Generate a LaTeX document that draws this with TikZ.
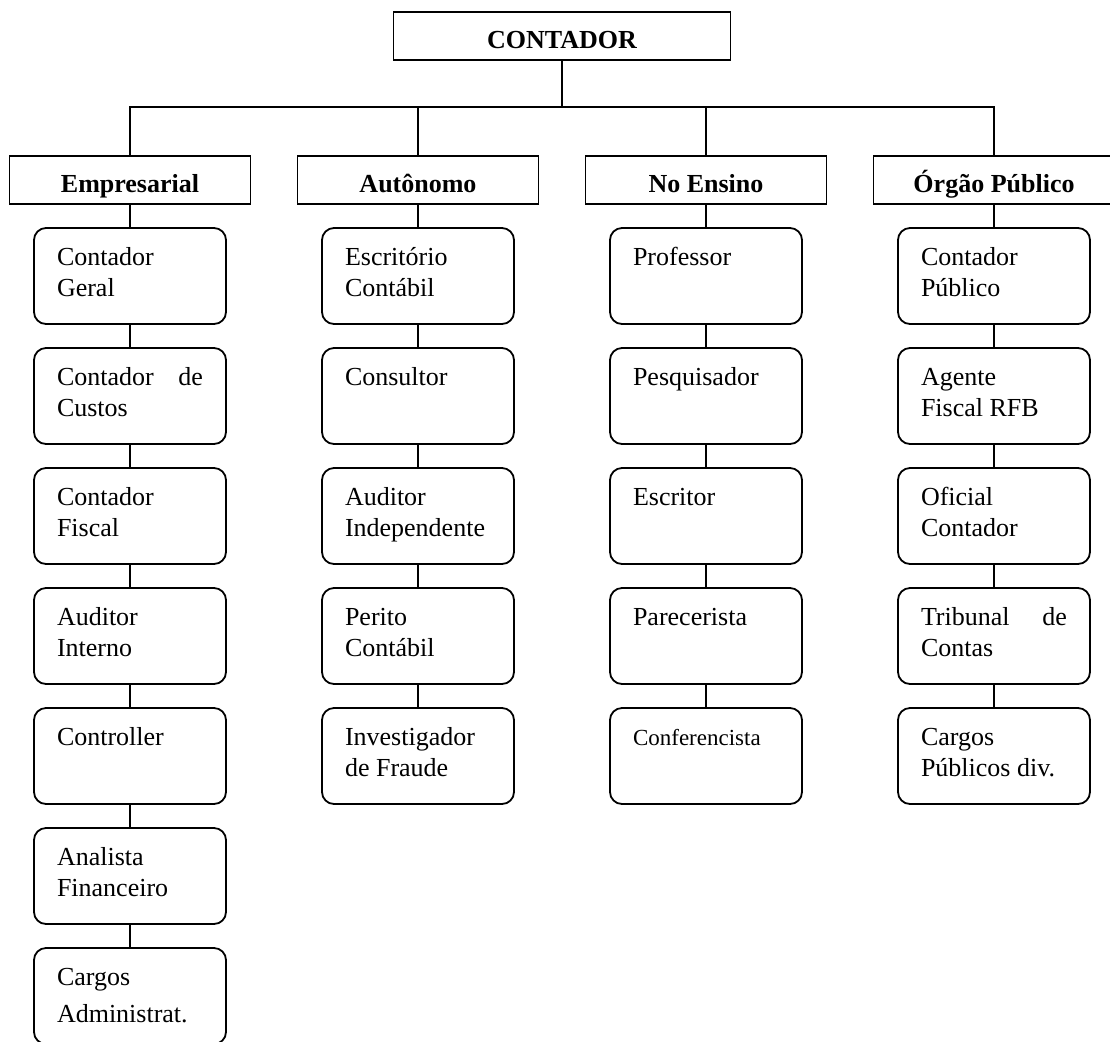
\documentclass[tikz,border=0pt]{standalone}
\usepackage{fontspec}
\setmainfont{Liberation Serif}
\usetikzlibrary{positioning}
\tikzstyle{chefe} = [draw=black, line width=0.9pt, rectangle, minimum width=168.5pt, inner sep=0pt, outer sep=0pt, text height=18pt, text depth=6pt, font=\fontsize{13}{15}\selectfont\bfseries]
\tikzstyle{area} = [draw=black, line width=0.9pt, rectangle, minimum width=120.5pt, inner sep=0pt, outer sep=0pt, text height=18pt, text depth=6pt, font=\fontsize{13}{15}\selectfont\bfseries]
\tikzstyle{cargo} = [draw=black, line width=0.9pt, rectangle, rounded corners=6pt, minimum width=96pt, minimum height=48pt, inner xsep=11.5pt, inner ysep=8pt, outer sep=0pt, font=\fontsize{13}{15.5}\selectfont]
\tikzstyle{ligacao} = [line width=0.9pt]
\newcommand{\txt}[1]{\parbox[t][32pt][t]{73pt}{\strut#1}}
\begin{document}
\begin{tikzpicture}[x=0.5pt, y=-0.5pt]
\useasboundingbox (0,0) rectangle (1110,1041);
\node [chefe] (contador) at (562,36) {CONTADOR};
\coordinate (hub) at (562,107);
\node [area] (emp) at (130,180) {Empresarial};
\node [area] (aut) at (418,180) {Autônomo};
\node [area] (ens) at (706,180) {No Ensino};
\node [area] (org) at (994,180) {Órgão Público};

\node [cargo, below=12pt of emp] (emp1) {\txt{Contador\\Geral}};
\node [cargo, below=12pt of emp1] (emp2) {\txt{Contador \hfill de\\Custos}};
\node [cargo, below=12pt of emp2] (emp3) {\txt{Contador\\Fiscal}};
\node [cargo, below=12pt of emp3] (emp4) {\txt{Auditor\\Interno}};
\node [cargo, below=12pt of emp4] (emp5) {\txt{Controller}};
\node [cargo, below=12pt of emp5] (emp6) {\txt{Analista\\Financeiro}};
\node [cargo, below=12pt of emp6] (emp7) {\txt{Cargos\\[3pt]Administrat.}};

\node [cargo, below=12pt of aut] (aut1) {\txt{Escritório\\Contábil}};
\node [cargo, below=12pt of aut1] (aut2) {\txt{Consultor}};
\node [cargo, below=12pt of aut2] (aut3) {\txt{Auditor\\Independente}};
\node [cargo, below=12pt of aut3] (aut4) {\txt{Perito\\Contábil}};
\node [cargo, below=12pt of aut4] (aut5) {\txt{Investigador\\de Fraude}};

\node [cargo, below=12pt of ens] (ens1) {\txt{Professor}};
\node [cargo, below=12pt of ens1] (ens2) {\txt{Pesquisador}};
\node [cargo, below=12pt of ens2] (ens3) {\txt{Escritor}};
\node [cargo, below=12pt of ens3] (ens4) {\txt{Parecerista}};
\node [cargo, below=12pt of ens4] (ens5) {\txt{\fontsize{11.5}{15.5}\selectfont Conferencista}};

\node [cargo, below=12pt of org] (org1) {\txt{Contador\\Público}};
\node [cargo, below=12pt of org1] (org2) {\txt{Agente\\Fiscal RFB}};
\node [cargo, below=12pt of org2] (org3) {\txt{Oficial\\Contador}};
\node [cargo, below=12pt of org3] (org4) {\txt{Tribunal \hfill de\\Contas}};
\node [cargo, below=12pt of org4] (org5) {\txt{Cargos\\Públicos div.}};

\draw [ligacao] (contador) -- (hub);
\draw [ligacao] (emp.north) |- (hub);
\draw [ligacao] (aut.north) |- (hub);
\draw [ligacao] (ens.north) |- (hub);
\draw [ligacao] (org.north) |- (hub);
\draw [ligacao] (emp) -- (emp1) -- (emp2) -- (emp3) -- (emp4) -- (emp5) -- (emp6) -- (emp7);
\draw [ligacao] (aut) -- (aut1) -- (aut2) -- (aut3) -- (aut4) -- (aut5);
\draw [ligacao] (ens) -- (ens1) -- (ens2) -- (ens3) -- (ens4) -- (ens5);
\draw [ligacao] (org) -- (org1) -- (org2) -- (org3) -- (org4) -- (org5);
\end{tikzpicture}
\end{document}
